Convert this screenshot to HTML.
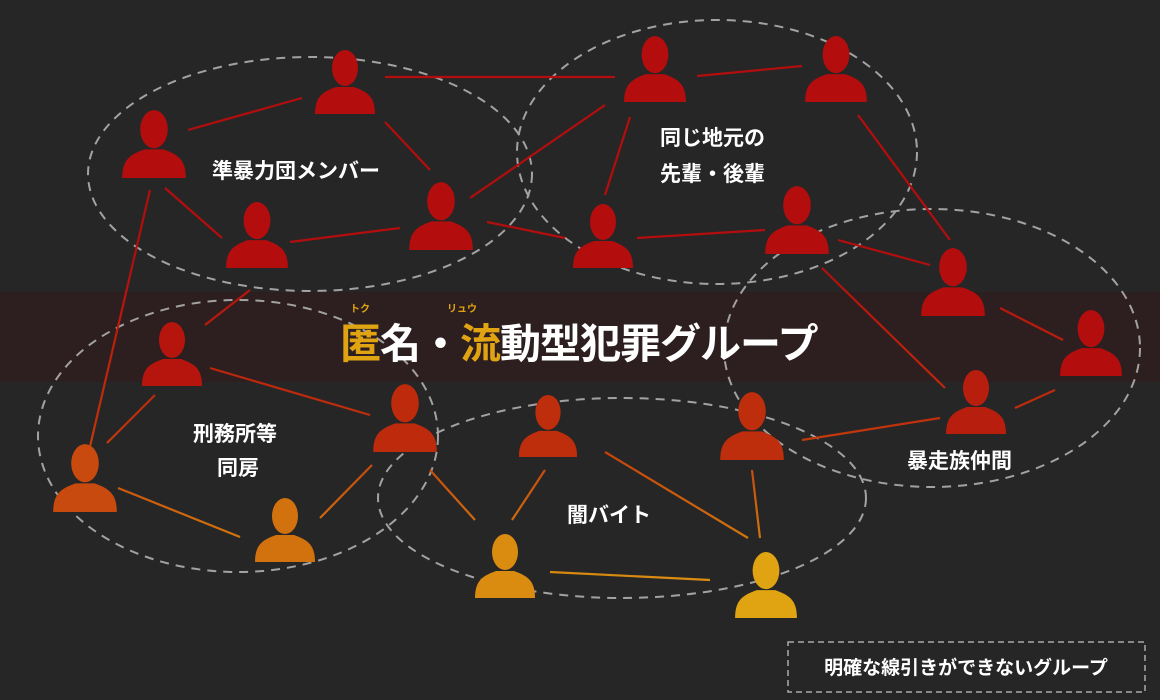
<!DOCTYPE html>
<html><head><meta charset="utf-8"><style>
body{margin:0;background:#262626;}
svg{display:block}
text{font-family:"Liberation Sans","Noto Sans CJK JP",sans-serif;font-weight:bold;fill:#fff}
</style></head><body>
<svg width="1160" height="700" viewBox="0 0 1160 700" xmlns="http://www.w3.org/2000/svg">
<defs>
<linearGradient id="g" gradientUnits="userSpaceOnUse" x1="0" y1="260" x2="0" y2="620">
<stop offset="0" stop-color="#b30d0d"/><stop offset="0.45" stop-color="#c0300c"/><stop offset="0.75" stop-color="#d0700e"/><stop offset="1" stop-color="#e0a412"/>
</linearGradient>
<symbol id="p" viewBox="0 0 60 66" overflow="visible">
<ellipse cx="30" cy="20" rx="13" ry="18"/>
<path d="M0 66 C0 49 7 44 21 39 L39 39 C53 44 60 49 60 66 Z"/>
</symbol>
</defs>
<rect width="1160" height="700" fill="#262626"/>
<rect x="0" y="292" width="1160" height="90" fill="#2f1f1f" opacity="0.9"/>
<g fill="none" stroke="#b8b8b8" stroke-width="2" stroke-dasharray="9 7" opacity="0.85">
<ellipse cx="310" cy="174" rx="222" ry="117"/>
<ellipse cx="717" cy="152" rx="200" ry="132"/>
<ellipse cx="932" cy="348" rx="208" ry="139"/>
<ellipse cx="238" cy="436" rx="200" ry="136"/>
<ellipse cx="622" cy="498" rx="244" ry="100"/>
</g>
<g stroke="url(#g)" stroke-width="2.2" fill="none">
<line x1="385" y1="77" x2="615" y2="77"/><line x1="188" y1="130" x2="302" y2="98"/>
<line x1="385" y1="122" x2="430" y2="170"/><line x1="165" y1="188" x2="222" y2="238"/>
<line x1="290" y1="242" x2="400" y2="228"/><line x1="470" y1="198" x2="605" y2="105"/>
<line x1="487" y1="222" x2="565" y2="238"/><line x1="697" y1="76" x2="802" y2="66"/>
<line x1="630" y1="117" x2="605" y2="195"/><line x1="637" y1="238" x2="765" y2="230"/>
<line x1="858" y1="115" x2="950" y2="240"/><line x1="838" y1="240" x2="930" y2="265"/>
<line x1="1000" y1="308" x2="1063" y2="340"/><line x1="822" y1="268" x2="945" y2="388"/>
<line x1="1015" y1="408" x2="1055" y2="390"/><line x1="802" y1="440" x2="940" y2="418"/>
<line x1="150" y1="190" x2="88" y2="455"/><line x1="250" y1="290" x2="205" y2="325"/>
<line x1="210" y1="368" x2="370" y2="415"/><line x1="155" y1="395" x2="107" y2="443"/>
<line x1="118" y1="488" x2="240" y2="537"/><line x1="372" y1="465" x2="320" y2="518"/>
<line x1="430" y1="470" x2="475" y2="520"/><line x1="545" y1="470" x2="512" y2="520"/>
<line x1="605" y1="452" x2="748" y2="538"/><line x1="752" y1="470" x2="760" y2="538"/>
<line x1="550" y1="572" x2="710" y2="580"/>
</g>
<g fill="#b30d0d">
<use href="#p" x="315" y="48" width="60" height="66"/>
<use href="#p" x="122" y="108" width="64" height="70"/>
<use href="#p" x="225" y="200" width="64" height="68"/>
<use href="#p" x="409" y="180" width="64" height="70"/>
<use href="#p" x="623" y="34" width="64" height="68"/>
<use href="#p" x="805" y="34" width="62" height="68"/>
<use href="#p" x="572" y="202" width="62" height="66"/>
<use href="#p" x="765" y="184" width="64" height="70"/>
<use href="#p" x="921" y="246" width="64" height="70"/>
<use href="#p" x="1060" y="308" width="62" height="68"/>
</g>
<use href="#p" x="141" y="320" width="62" height="66" fill="#b5150d"/>
<use href="#p" x="372" y="382" width="66" height="70" fill="#bd2a0c"/>
<use href="#p" x="518" y="393" width="60" height="64" fill="#be2e0c"/>
<use href="#p" x="718" y="390" width="68" height="70" fill="#be2e0c"/>
<use href="#p" x="946" y="368" width="60" height="66" fill="#b81e0d"/>
<use href="#p" x="53" y="442" width="64" height="70" fill="#c84a0e"/>
<use href="#p" x="254" y="496" width="62" height="66" fill="#d2720e"/>
<use href="#p" x="474" y="532" width="62" height="66" fill="#d98c10"/>
<use href="#p" x="734" y="550" width="64" height="68" fill="#e0a412"/>
<g font-size="21">
<text x="212" y="178">準暴力団メンバー</text>
<text x="660" y="145">同じ地元の</text>
<text x="660" y="181">先輩・後輩</text>
<text x="193" y="441">刑務所等</text>
<text x="217" y="475">同房</text>
<text x="567" y="522">闇バイト</text>
<text x="907" y="468">暴走族仲間</text>
</g>
<text x="340" y="358" font-size="41" letter-spacing="-1"><tspan style="fill:#e0a412">匿</tspan>名・<tspan style="fill:#e0a412">流</tspan>動型犯罪グループ</text>
<text x="350" y="312" font-size="10" style="fill:#e0a412">トク</text>
<text x="447" y="312" font-size="10" style="fill:#e0a412">リュウ</text>
<rect x="788" y="642" width="357" height="50" fill="none" stroke="#aaa" stroke-width="1.5" stroke-dasharray="6 4"/>
<text x="966" y="674" font-size="19" text-anchor="middle">明確な線引きができないグループ</text>
</svg>
</body></html>
